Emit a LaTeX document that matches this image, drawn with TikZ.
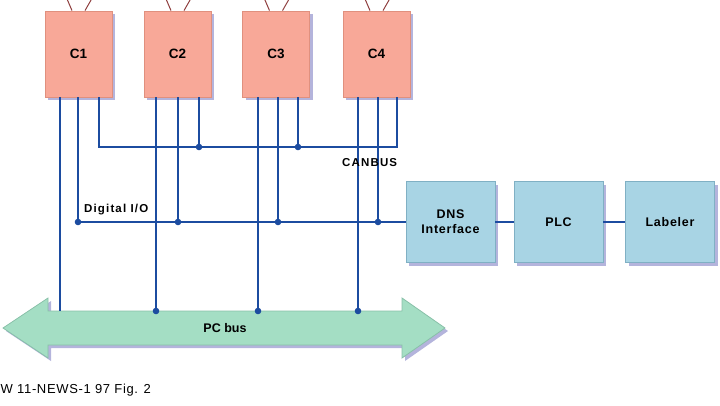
\documentclass[tikz,border=0pt]{standalone}
\usepackage{fontspec}
\setmainfont{Liberation Sans}
\usetikzlibrary{shadows,calc}
\definecolor{cfill}{HTML}{F8A898}
\definecolor{cdraw}{HTML}{E0907E}
\definecolor{bfill}{HTML}{A8D4E4}
\definecolor{bdraw}{HTML}{80B0C4}
\definecolor{gfill}{HTML}{A4DEC4}
\definecolor{gdraw}{HTML}{88C0A8}
\definecolor{shad}{HTML}{B4B4DC}
\definecolor{wire}{HTML}{1C4CA0}
\definecolor{ant}{HTML}{904040}
\tikzset{
  cbox/.style={draw=cdraw, fill=cfill, line width=0.8pt, minimum width=67pt, minimum height=86pt,
    inner sep=0pt, font=\fontsize{13.5}{13.5}\selectfont\bfseries,
    drop shadow={shadow xshift=3pt, shadow yshift=-3pt, fill=shad, opacity=1}},
  bbox/.style={draw=bdraw, fill=bfill, line width=0.8pt, minimum width=89pt, minimum height=81pt,
    inner sep=0pt, align=center, font=\fontsize{12.5}{15}\selectfont\bfseries\addfontfeatures{LetterSpace=6},
    drop shadow={shadow xshift=3pt, shadow yshift=-3pt, fill=shad, opacity=1}},
  wireline/.style={draw=wire, line width=2pt},
  dot/.style={fill=wire},
  antenna/.style={draw=ant, line width=1pt},
  small/.style={font=\fontsize{11.5}{11.5}\selectfont\bfseries\addfontfeatures{LetterSpace=10}, inner sep=0pt},
}
\begin{document}
\begin{tikzpicture}[x=1pt, y=-1pt]
\useasboundingbox (0,0) rectangle (720,405);
% controller boxes
\foreach \n/\cx in {1/78.5, 2/177.5, 3/276, 4/376.5} {
  \node[cbox] (C\n) at (\cx,54) {C\n};
  \draw[antenna] ($(C\n.north)+(-6.5,0)$) -- ++(-6,-14);
  \draw[antenna] ($(C\n.north)+(6.5,0)$) -- ++(8,-14);
}
% right chain
\node[bbox] (DNS) at (450.5,222) {DNS\\Interface};
\node[bbox] (PLC) at (558.5,222) {PLC};
\node[bbox] (LAB) at (670,222) {Labeler};
% PC bus arrow
\fill[shad] (6,331) -- (51,301) -- (51,314) -- (405,314) -- (405,301) -- (448,331) -- (405,361) -- (405,348) -- (51,348) -- (51,361) -- cycle;
\filldraw[fill=gfill, draw=gdraw, line width=0.8pt] (3,328) -- (48,298) -- (48,311) -- (402,311) -- (402,298) -- (445,328) -- (402,358) -- (402,345) -- (48,345) -- (48,358) -- cycle;
\node[font=\fontsize{12.5}{12.5}\selectfont\bfseries, minimum width=354pt, minimum height=34pt, inner sep=0pt] (bus) at (225,328) {PC bus};
% junction coordinates
\coordinate (cbL) at (99,147);
\coordinate (cb2) at (199,147);
\coordinate (cb3) at (298,147);
\coordinate (cbR) at (397,147);
\coordinate (d1) at (78,222);
\coordinate (d2) at (178,222);
\coordinate (d3) at (278,222);
\coordinate (d4) at (378,222);
\coordinate (p1) at (60,311);
\coordinate (p2) at (156,311);
\coordinate (p3) at (258,311);
\coordinate (p4) at (358,311);
% CANBUS
\draw[wireline] (C1.south -| cbL) -- (cbL) -- (cbR) -- (C4.south -| cbR);
\draw[wireline] (C2.south -| cb2) -- (cb2);
\draw[wireline] (C3.south -| cb3) -- (cb3);
% Digital I/O
\draw[wireline] (C1.south -| d1) -- (d1) -- (DNS.west);
\draw[wireline] (C2.south -| d2) -- (d2);
\draw[wireline] (C3.south -| d3) -- (d3);
\draw[wireline] (C4.south -| d4) -- (d4);
% PC bus drops
\draw[wireline] (C1.south -| p1) -- (p1);
\draw[wireline] (C2.south -| p2) -- (p2);
\draw[wireline] (C3.south -| p3) -- (p3);
\draw[wireline, line width=1.2pt] (C4.south -| p4) -- (p4);
% chain links
\draw[wireline] (DNS.east) -- (PLC.west);
\draw[wireline] (PLC.east) -- (LAB.west);
% dots
\foreach \c in {cb2,cb3,d1,d2,d3,d4,p2,p3,p4} \fill[dot] (\c) circle (3.3);
% labels
\node[small, anchor=west] (lblDIO) at (84,210) {Digital I/O};
\node[small, anchor=west] (lblCAN) at (342,163) {CANBUS};
\node[font=\fontsize{13}{13}\selectfont\addfontfeatures{LetterSpace=5}, anchor=west, inner sep=0pt] (cap) at (0.5,390) {W 11-NEWS-1 97 Fig. 2};
\end{tikzpicture}
\end{document}
